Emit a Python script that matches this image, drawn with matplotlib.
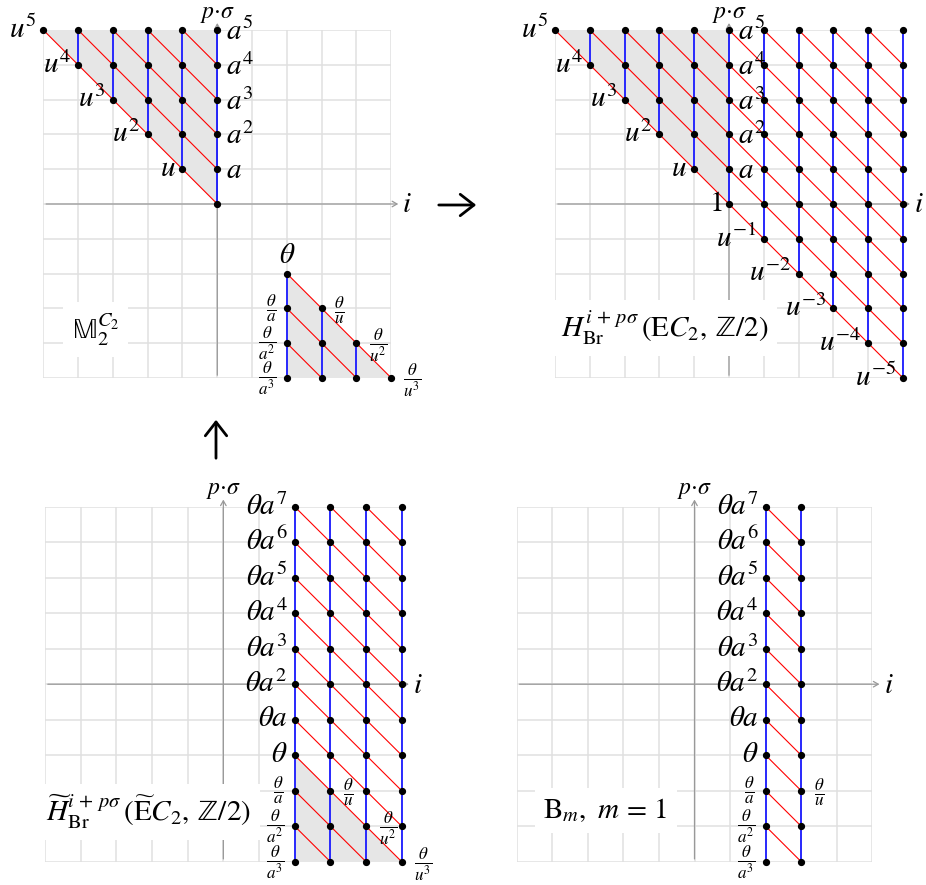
import matplotlib
matplotlib.use("Agg")
import matplotlib.pyplot as plt
from matplotlib.patches import Polygon, FancyArrowPatch

plt.rcParams["mathtext.fontset"] = "stix"
plt.rcParams["font.family"] = "STIXGeneral"

W, H = 926, 885
FS = 21
FS_FRAC = 17.5

# ---- data: columns are i -> (lowest p, highest p), red lines are (i0, p0, i1, p1)
m2_columns = {-5: (5, 5), -4: (4, 5), -3: (3, 5), -2: (2, 5), -1: (1, 5), 0: (0, 5),
              2: (-5, -2), 3: (-5, -3), 4: (-5, -4), 5: (-5, -5)}
m2_red = [(-5, 5, 0, 0), (-4, 5, 0, 1), (-3, 5, 0, 2), (-2, 5, 0, 3), (-1, 5, 0, 4),
          (2, -2, 5, -5), (2, -3, 4, -5), (2, -4, 3, -5)]
m2_shade = [[(-5, 5), (0, 5), (0, 0)], [(2, -2), (2, -5), (5, -5)]]
m2_labels = [(-5, 5, r"$u^5$", "l"), (-4, 4, r"$u^4$", "l"), (-3, 3, r"$u^3$", "l"),
             (-2, 2, r"$u^2$", "l"), (-1, 1, r"$u$", "l"),
             (0, 5, r"$a^5$", "r"), (0, 4, r"$a^4$", "r"), (0, 3, r"$a^3$", "r"),
             (0, 2, r"$a^2$", "r"), (0, 1, r"$a$", "r"),
             (2, -2, r"$\theta$", "t"),
             (2, -3, r"$\frac{\theta}{a}$", "l"), (2, -4, r"$\frac{\theta}{a^2}$", "l"),
             (2, -5, r"$\frac{\theta}{a^3}$", "l"),
             (3, -3, r"$\frac{\theta}{u}$", "r"), (4, -4, r"$\frac{\theta}{u^2}$", "r"),
             (5, -5, r"$\frac{\theta}{u^3}$", "r")]
m2_title = r"$\mathrm{\mathbb{M}}_2^{C_2}$"
m2_title_at = (-3.5, -3.6)

ec_columns = {-5: (5, 5), -4: (4, 5), -3: (3, 5), -2: (2, 5), -1: (1, 5), 0: (0, 5),
              1: (-1, 5), 2: (-2, 5), 3: (-3, 5), 4: (-4, 5), 5: (-5, 5)}
ec_red = [(-5, 5, 5, -5), (-4, 5, 5, -4), (-3, 5, 5, -3), (-2, 5, 5, -2), (-1, 5, 5, -1),
          (0, 5, 5, 0), (1, 5, 5, 1), (2, 5, 5, 2), (3, 5, 5, 3), (4, 5, 5, 4)]
ec_shade = [[(-5, 5), (0, 5), (0, 0)]]
ec_labels = [(-5, 5, r"$u^5$", "l"), (-4, 4, r"$u^4$", "l"), (-3, 3, r"$u^3$", "l"),
             (-2, 2, r"$u^2$", "l"), (-1, 1, r"$u$", "l"),
             (0, 5, r"$a^5$", "r"), (0, 4, r"$a^4$", "r"), (0, 3, r"$a^3$", "r"),
             (0, 2, r"$a^2$", "r"), (0, 1, r"$a$", "r"), (0, 0, r"$1$", "l"),
             (1, -1, r"$u^{-1}$", "l"), (2, -2, r"$u^{-2}$", "l"), (3, -3, r"$u^{-3}$", "l"),
             (4, -4, r"$u^{-4}$", "l"), (5, -5, r"$u^{-5}$", "l")]
ec_title = r"$H_{\mathrm{Br}}^{i\,+\,p\sigma}\,(\mathrm{E}C_2,\,\mathrm{\mathbb{Z}}/2)$"
ec_title_at = (-1.85, -3.55)

theta_rows = [(5, r"$\theta a^7$"), (4, r"$\theta a^6$"), (3, r"$\theta a^5$"),
              (2, r"$\theta a^4$"), (1, r"$\theta a^3$"), (0, r"$\theta a^2$"),
              (-1, r"$\theta a$"), (-2, r"$\theta$"), (-3, r"$\frac{\theta}{a}$"),
              (-4, r"$\frac{\theta}{a^2}$"), (-5, r"$\frac{\theta}{a^3}$")]

tec_columns = {2: (-5, 5), 3: (-5, 5), 4: (-5, 5), 5: (-5, 5)}
tec_red = [(2, 5, 5, 2), (2, 4, 5, 1), (2, 3, 5, 0), (2, 2, 5, -1), (2, 1, 5, -2),
           (2, 0, 5, -3), (2, -1, 5, -4), (2, -2, 5, -5), (2, -3, 4, -5), (2, -4, 3, -5),
           (3, 5, 5, 3), (4, 5, 5, 4)]
tec_shade = [[(2, -2), (2, -5), (5, -5)]]
tec_labels = [(2, p, t, "l") for p, t in theta_rows] + [
    (3, -3, r"$\frac{\theta}{u}$", "r"), (4, -4, r"$\frac{\theta}{u^2}$", "r"),
    (5, -5, r"$\frac{\theta}{u^3}$", "r")]
tec_title = (r"$\widetilde{H}_{\mathrm{Br}}^{i\,+\,p\sigma}\,"
             r"(\widetilde{\mathrm{E}}C_2,\,\mathrm{\mathbb{Z}}/2)$")
tec_title_at = (-2.1, -3.6)

b_columns = {2: (-5, 5), 3: (-5, 5)}
b_red = [(2, 5, 3, 4), (2, 4, 3, 3), (2, 3, 3, 2), (2, 2, 3, 1), (2, 1, 3, 0),
         (2, 0, 3, -1), (2, -1, 3, -2), (2, -2, 3, -3), (2, -3, 3, -4), (2, -4, 3, -5)]
b_shade = []
b_labels = [(2, p, t, "l") for p, t in theta_rows] + [(3, -3, r"$\frac{\theta}{u}$", "r")]
b_title = r"$\mathrm{B}_m,\ m\,=\,1$"
b_title_at = (-2.5, -3.55)

# panel boxes in pixels: left, right, top, bottom of the -5..5 grid
boxes = [(43.3, 391.3, 30, 378), (555, 903, 30, 378),
         (45, 401.7, 506.7, 861.7), (516.7, 872.3, 506.7, 861.7)]


def draw_panel(fig, box, columns, red, shade, labels, title, title_at):
    l, r, t, b = box
    ax = fig.add_axes([l / W, 1 - b / H, (r - l) / W, (b - t) / H])
    ax.set_xlim(-5, 5)
    ax.set_ylim(-5, 5)
    ax.set_xticks(range(-5, 6))
    ax.set_yticks(range(-5, 6))
    ax.grid(True, color="#e0e0e0", lw=1.1)
    ax.set_axisbelow(True)
    ax.tick_params(length=0, labelbottom=False, labelleft=False)
    for s in ax.spines.values():
        s.set_visible(False)

    for poly in shade:
        ax.add_patch(Polygon(poly, closed=True, fc="#e6e6e6", ec="none", zorder=1))

    arrow = dict(arrowstyle="->,head_length=0.35,head_width=0.2", color="#999999", lw=0.9)
    ax.annotate("", xy=(5.28, 0), xytext=(-5, 0), arrowprops=arrow, annotation_clip=False, zorder=2)
    ax.annotate("", xy=(0, 5.28), xytext=(0, -5), arrowprops=arrow, annotation_clip=False, zorder=2)
    ax.text(5.32, -0.05, r"$i$", ha="left", va="center", fontsize=FS)
    ax.text(0, 5.15, r"$p{\cdot}\sigma$", ha="center", va="bottom", fontsize=17)

    for i0, p0, i1, p1 in red:
        ax.plot([i0, i1], [p0, p1], color="red", lw=0.8, clip_on=False, zorder=3)
    xs, ys = [], []
    for i, (lo, hi) in columns.items():
        if hi > lo:
            ax.plot([i, i], [lo, hi], color="#1a1aff", lw=1.3, clip_on=False, zorder=4)
        for p in range(lo, hi + 1):
            xs.append(i)
            ys.append(p)
    ax.plot(xs, ys, "o", color="black", ms=4.2, clip_on=False, zorder=5)

    for i, p, txt, side in labels:
        frac = "frac" in txt
        fs = FS_FRAC if frac else FS
        if side == "l":
            ax.text(i - (0.3 if frac else 0.2), p, txt, ha="right", va="center",
                    fontsize=fs, zorder=6)
        elif side == "r":
            ax.text(i + (0.35 if frac else 0.25), p - 0.06, txt, ha="left", va="center",
                    fontsize=fs, zorder=6)
        else:
            ax.text(i, p + 0.12, txt, ha="center", va="bottom", fontsize=fs, zorder=6)

    ax.text(title_at[0], title_at[1], title, ha="center", va="center", fontsize=FS, zorder=6,
            bbox=dict(boxstyle="square,pad=0.3", fc="white", ec="none"))
    return ax


fig = plt.figure(figsize=(W / 100, H / 100), dpi=100)
draw_panel(fig, boxes[0], m2_columns, m2_red, m2_shade, m2_labels, m2_title, m2_title_at)
draw_panel(fig, boxes[1], ec_columns, ec_red, ec_shade, ec_labels, ec_title, ec_title_at)
draw_panel(fig, boxes[2], tec_columns, tec_red, tec_shade, tec_labels, tec_title, tec_title_at)
draw_panel(fig, boxes[3], b_columns, b_red, b_shade, b_labels, b_title, b_title_at)

big = dict(arrowstyle="->,head_length=0.45,head_width=0.35", color="black", lw=2.0,
           mutation_scale=22, transform=fig.transFigure)
fig.add_artist(FancyArrowPatch((436 / W, 1 - 205 / H), (479 / W, 1 - 205 / H), **big))
fig.add_artist(FancyArrowPatch((216 / W, 1 - 461 / H), (216 / W, 1 - 417 / H), **big))

fig.savefig("out.png", dpi=100)
